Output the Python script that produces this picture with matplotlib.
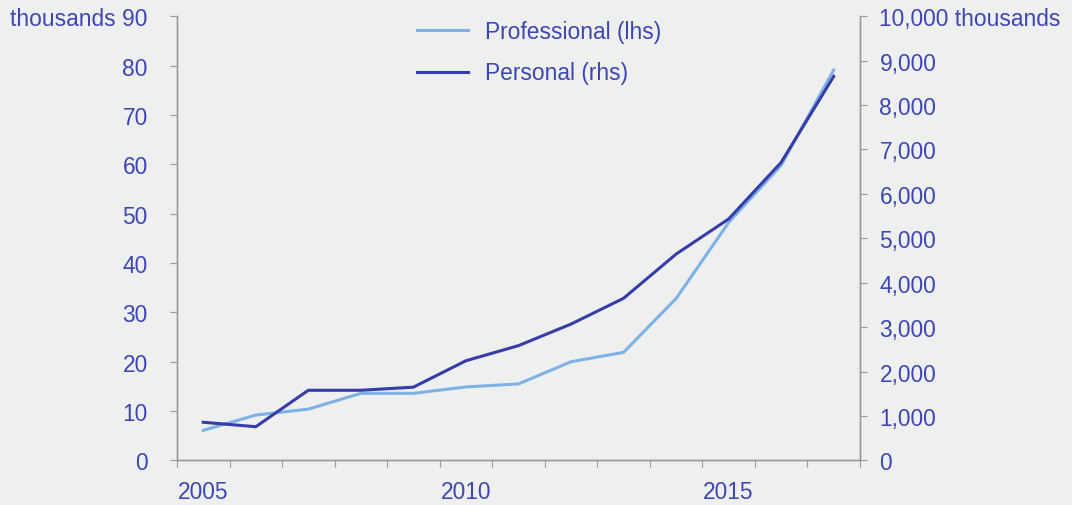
import matplotlib.pyplot as plt
from matplotlib.ticker import FixedLocator, NullFormatter

years = [2005, 2006, 2007, 2008, 2009, 2010, 2011, 2012, 2013, 2014, 2015, 2016, 2017]
professional = [6.1, 9.2, 10.4, 13.6, 13.6, 14.9, 15.5, 20.0, 21.9, 32.8, 48.2, 59.8, 79.1]
personal = [860, 760, 1580, 1580, 1650, 2245, 2585, 3070, 3650, 4645, 5435, 6710, 8645]

left_ticks = [0, 10, 20, 30, 40, 50, 60, 70, 80, 90]
right_ticks = [0, 1000, 2000, 3000, 4000, 5000, 6000, 7000, 8000, 9000, 10000]
year_labels = ["2005", "2010", "2015"]

bg = "#eef0f0"
txt = "#3d46b2"
light = "#7fb1e6"
dark = "#363ca8"
spine = "#9a9a9a"

plt.rcParams['font.family'] = ['Liberation Sans', 'DejaVu Sans']
plt.rcParams['font.size'] = 16.4

fig = plt.figure(figsize=(10.72, 5.06), dpi=100, facecolor=bg)
ax = fig.add_axes([0.1651, 0.088, 0.6371, 0.878], facecolor=bg)
ax2 = ax.twinx()

x = list(range(len(years)))
l1, = ax.plot(x, professional, color=light, lw=2.2, label="Professional (lhs)")
l2, = ax2.plot(x, personal, color=dark, lw=2.2, label="Personal (rhs)")

ax.set_xlim(-0.5, len(years) - 0.5)
ax.set_ylim(0, 90)
ax2.set_ylim(0, 10000)

# year boundaries as major ticks, labels centred on categories
ax.xaxis.set_major_locator(FixedLocator([i - 0.5 for i in range(len(years) + 1)]))
ax.xaxis.set_major_formatter(NullFormatter())
pos = [years.index(int(y)) for y in year_labels]
ax.xaxis.set_minor_locator(FixedLocator(pos))
ax.set_xticklabels(year_labels, minor=True)
ax.tick_params(axis='x', which='major', length=5, color=spine, direction='out')
ax.tick_params(axis='x', which='minor', length=0, pad=14, labelcolor=txt, labelsize=16.4)

ax.set_yticks(left_ticks)
ax.set_yticklabels([str(v) for v in left_ticks[:-1]] + ["thousands 90"])
ax.tick_params(axis='y', length=5, color=spine, pad=16, labelcolor=txt)

ax2.set_yticks(right_ticks)
rl = [f"{v:,}" for v in right_ticks]
rl[-1] = rl[-1] + " thousands"
ax2.set_yticklabels(rl)
ax2.tick_params(axis='y', length=5, color=spine, pad=9, labelcolor=txt)

for a in (ax, ax2):
    a.spines['top'].set_visible(False)
    for s in ('left', 'right', 'bottom'):
        a.spines[s].set_color(spine)
        a.spines[s].set_linewidth(1.0)

leg = ax.legend([l1, l2], [l1.get_label(), l2.get_label()], loc='upper left',
                bbox_to_anchor=(0.322, 1.037), frameon=False, handlelength=2.2,
                handletextpad=0.75, labelspacing=0.8)
for t in leg.get_texts():
    t.set_color(txt)

fig.savefig("out.png", dpi=100, facecolor=bg)
